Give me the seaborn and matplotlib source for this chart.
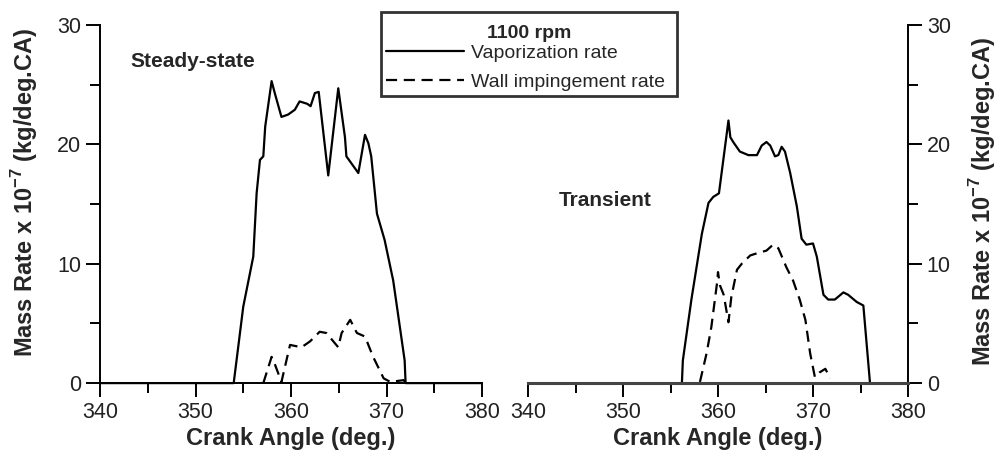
import matplotlib
matplotlib.use("Agg")
import matplotlib.pyplot as plt
import seaborn as sns
import pandas as pd
from matplotlib.ticker import MultipleLocator
from matplotlib.lines import Line2D
from matplotlib.patches import Rectangle

# ---- data (crank angle in deg, mass rate x 1e-7 kg/deg.CA) ----
ss_vap_angle = [340, 354.0, 355.0, 356.05, 356.4, 356.75, 357.1, 357.3, 357.97, 358.3, 359.0, 359.7,
                360.4, 360.9, 361.7, 362.05, 362.5, 362.9, 363.9, 364.95, 365.65, 365.8, 367.05,
                367.75, 368.1, 368.4, 369.0, 369.8, 370.7, 371.4, 371.9, 372.0, 380]
ss_vap_rate = [0, 0, 6.4, 10.6, 15.9, 18.7, 19.0, 21.5, 25.3, 24.3, 22.3, 22.5,
               22.9, 23.6, 23.4, 23.2, 24.3, 24.4, 17.4, 24.7, 20.6, 19.0, 17.6,
               20.8, 20.1, 19.0, 14.2, 12.0, 8.6, 4.7, 1.9, 0, 0]

ss_wall_angle = [357.1, 357.97, 358.3, 359.0, 359.9, 361.1, 362.0, 363.0, 363.7, 364.95, 365.3,
                 366.2, 366.9, 367.75, 368.6, 369.7, 370.4, 371.8, 372.0]
ss_wall_rate = [0, 2.2, 1.6, 0.1, 3.2, 3.0, 3.5, 4.3, 4.2, 3.0, 4.2,
                5.3, 4.2, 3.9, 2.2, 0.4, 0.1, 0.25, 0]

tr_vap_angle = [340, 356.2, 356.3, 357.2, 358.3, 359.0, 359.5, 360.1, 361.1, 361.3, 361.6, 362.3,
                363.2, 364.1, 364.6, 365.1, 365.5, 366.0, 366.35, 366.7, 367.05, 367.6, 368.3,
                368.8, 369.3, 370.0, 370.4, 371.1, 371.6, 372.3, 373.2, 373.7, 374.6, 375.3,
                376.0, 380]
tr_vap_rate = [0, 0, 1.9, 7.0, 12.5, 15.1, 15.6, 15.9, 22.0, 20.6, 20.2, 19.4,
               19.1, 19.1, 19.9, 20.2, 19.9, 19.0, 19.1, 19.8, 19.4, 17.6, 14.8,
               12.1, 11.6, 11.7, 10.6, 7.4, 7.0, 7.0, 7.6, 7.4, 6.8, 6.5,
               0, 0]

tr_wall_angle = [358.1, 358.8, 359.3, 359.9, 360.0, 360.2, 360.6, 361.1, 361.4, 362.0, 362.5,
                 363.4, 364.2, 365.1, 365.8, 366.35, 367.2, 367.9, 368.6, 369.2, 369.7, 370.2,
                 370.7, 371.3, 371.8]
tr_wall_rate = [0.1, 2.5, 4.7, 8.4, 9.3, 8.2, 7.4, 5.1, 7.2, 9.5, 10.0,
                10.7, 10.9, 11.1, 11.6, 11.3, 9.7, 8.6, 7.0, 5.3, 2.5, 0.5,
                0.9, 1.2, 0.4]

x_ticks = [340, 350, 360, 370, 380]
y_ticks = [0, 10, 20, 30]
panel_labels = ["Steady-state", "Transient"]
legend_title = "1100 rpm"
series_names = ["Vaporization rate", "Wall impingement rate"]

sns.set_theme(style="ticks")
plt.rcParams["font.family"] = ["Liberation Sans", "DejaVu Sans"]
plt.rcParams["mathtext.fontset"] = "custom"
plt.rcParams["mathtext.rm"] = "Liberation Sans"
plt.rcParams["mathtext.bf"] = "Liberation Sans:bold"

fig = plt.figure(figsize=(10, 4.55), dpi=100)
ax1 = fig.add_axes([0.100, 0.158, 0.382, 0.787])
ax2 = fig.add_axes([0.528, 0.158, 0.380, 0.787])

lw = 1.6
dash = (5, 3)


def draw(ax, va, vr, wa, wr):
    df_v = pd.DataFrame({"angle": va, "rate": vr})
    df_w = pd.DataFrame({"angle": wa, "rate": wr})
    sns.lineplot(data=df_v, x="angle", y="rate", ax=ax, color="black", lw=lw,
                 sort=False, estimator=None, clip_on=False)
    sns.lineplot(data=df_w, x="angle", y="rate", ax=ax, color="black", lw=lw,
                 sort=False, estimator=None, dashes=False, linestyle=(0, dash))
    ax.set_xlim(340, 380)
    ax.set_ylim(0, 30)
    ax.set_xticks(x_ticks)
    ax.set_yticks(y_ticks)
    ax.xaxis.set_minor_locator(MultipleLocator(5))
    ax.yaxis.set_minor_locator(MultipleLocator(5))
    ax.tick_params(which="major", direction="out", length=10, width=1.4, labelsize=15.5,
                   color="black", labelcolor="#222222")
    ax.tick_params(which="minor", direction="out", length=7, width=1.4, color="black")
    ax.set_xlabel("Crank Angle (deg.)", fontsize=17, fontweight="bold", labelpad=3)
    ax.set_ylabel(r"Mass Rate x 10$^{\mathbf{-7}}$ (kg/deg.CA)", fontsize=17,
                  fontweight="bold")
    for s in ax.spines.values():
        s.set_linewidth(1.4)
        s.set_color("black")


draw(ax1, ss_vap_angle, ss_vap_rate, ss_wall_angle, ss_wall_rate)
draw(ax2, tr_vap_angle, tr_vap_rate, tr_wall_angle, tr_wall_rate)

sns.despine(ax=ax1)
ax2.spines["left"].set_visible(False)
ax2.spines["top"].set_visible(False)
ax2.yaxis.tick_right()
ax2.yaxis.set_label_position("right")
ax2.spines["right"].set_visible(True)
ax2.yaxis.label.set_rotation(90)
ax2.spines["bottom"].set_linewidth(2.2)
ax2.spines["bottom"].set_color("#444444")

ax1.yaxis.set_label_coords(-0.157, 0.533)
ax2.yaxis.set_label_coords(1.155, 0.508)

ax1.text(0.08, 0.897, panel_labels[0], transform=ax1.transAxes, fontsize=15,
         fontweight="bold", ha="left", va="center")
ax2.text(0.08, 0.511, panel_labels[1], transform=ax2.transAxes, fontsize=15,
         fontweight="bold", ha="left", va="center")

# legend box with title
fig.patches.append(Rectangle((0.381, 1 - 96 / 455), 0.296, 84 / 455,
                             transform=fig.transFigure, facecolor="white",
                             edgecolor="#333333", lw=2, zorder=5))
fig.text(0.529, 1 - 33 / 455, legend_title, fontsize=14, fontweight="bold",
         ha="center", va="center", zorder=6)
handles = [Line2D([], [], color="black", lw=lw),
           Line2D([], [], color="black", lw=lw, linestyle=(0, dash))]
leg = fig.legend(handles, series_names, loc="upper left",
                 bbox_to_anchor=(0.386, 1 - 44 / 455), fontsize=14,
                 frameon=False, handlelength=4.0, handletextpad=0.36, borderpad=0,
                 labelspacing=0.6, borderaxespad=0)
leg.set_zorder(7)

fig.savefig("out.png", dpi=100)
